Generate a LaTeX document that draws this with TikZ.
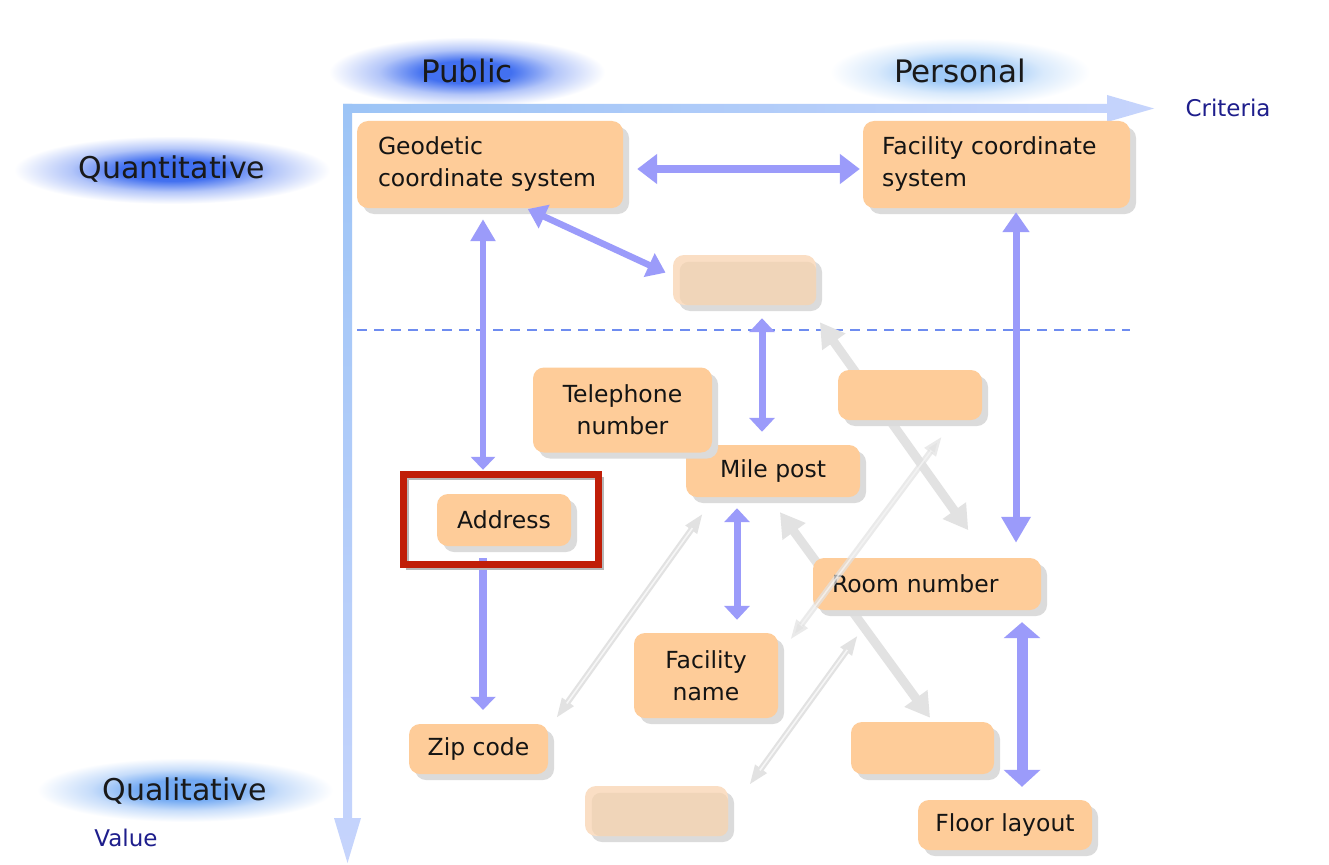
\documentclass[tikz,border=0pt]{standalone}
\usepackage{fontspec}
\setmainfont{DejaVu Sans}
\usetikzlibrary{arrows.meta,shadows,calc}

\definecolor{peach}{RGB}{254,204,153}
\definecolor{paleA}{RGB}{250,222,196}
\definecolor{paleB}{RGB}{240,213,185}
\definecolor{linkblue}{RGB}{155,155,250}
\definecolor{linkgray}{RGB}{226,226,226}
\definecolor{linkgrayin}{RGB}{246,246,246}
\definecolor{axisA}{RGB}{156,196,246}
\definecolor{axisB}{RGB}{198,212,252}
\definecolor{dashblue}{RGB}{110,140,240}
\definecolor{framered}{RGB}{192,30,8}
\definecolor{navy}{RGB}{30,30,140}
\definecolor{glowc}{RGB}{74,120,240}

% soft elliptical glow behind the axis labels (white at the path's edge)
\pgfdeclareradialshading[glowc]{glow}{\pgfpointorigin}{%
  color(0bp)=(glowc); color(8bp)=(glowc); color(16bp)=(glowc!40!white);
  color(25bp)=(white); color(50bp)=(white)}

\tikzset{
  box/.style={rounded corners=11pt, fill=peach, draw=none,
    drop shadow={shadow xshift=6pt, shadow yshift=-6pt, fill=black!14, opacity=1},
    font=\fontsize{23.5}{32}\selectfont, text=black!92, inner sep=0pt},
  palebox/.style={box, fill=paleA},
  biglabel/.style={font=\fontsize{30}{30}\selectfont, text=black!90},
  axislabel/.style={font=\fontsize{23}{23}\selectfont, text=navy},
  bluelink/.style={draw=linkblue, line width=7pt,
    arrows={Triangle[length=14pt,width=25pt]-Triangle[length=14pt,width=25pt]}},
  graylink/.style={draw=linkgray, line width=9pt,
    arrows={Triangle[length=24pt,width=27pt]-Triangle[length=24pt,width=27pt]}},
  thinlink/.style={draw=linkgray, line width=6pt,
    arrows={Triangle[length=20pt,width=13pt]-Triangle[length=20pt,width=13pt]}},
  thininner/.style={draw=linkgrayin, line width=1.6pt},
}

\begin{document}
\begin{tikzpicture}[x=1pt,y=-1pt]
\useasboundingbox (0,0) rectangle (1329,864);
\fill[white] (0,0) rectangle (1329,864);

% glows
\definecolor{glowc}{RGB}{66,112,240}
\shade[shading=glow] (467,72) ellipse (138pt and 35pt);
\shade[shading=glow] (172,170) ellipse (158pt and 34pt);
\definecolor{glowc}{RGB}{160,202,247}
\shade[shading=glow] (960,72) ellipse (130pt and 34pt);
\definecolor{glowc}{RGB}{115,170,243}
\shade[shading=glow] (185,790) ellipse (148pt and 32pt);

% labels
\node[biglabel, font=\fontsize{31}{31}\selectfont] (public) at (467,71) {Public};
\node[biglabel, font=\fontsize{31}{31}\selectfont] (personal) at (960,71) {Personal};
\node[biglabel] (quant) at (172,169) {Quantitative};
\node[biglabel] (qual) at (185,791) {Qualitative};
\node[axislabel] (criteria) at (1228,108) {Criteria};
\node[axislabel] (value) at (126,838) {Value};

% axes
\coordinate (origin) at (343,104);
\shade[left color=axisA, right color=axisB]
  (origin) -- (1107,104) -- (1107,95) -- (1154,108.5) -- (1107,122)
  -- (1107,113) -- (343,113) -- cycle;
\shade[top color=axisA, bottom color=axisB]
  (origin) -- (352,104) -- (352,818) -- (361,818) -- (347.5,863)
  -- (334,818) -- (343,818) -- cycle;

% divider between quantitative and qualitative
\coordinate (divL) at (357,330);
\coordinate (divR) at (1130,330);
\draw[dashblue, line width=1.8pt, dash pattern=on 10pt off 7pt] (divL) -- (divR);

% placeholders for nodes used by the grey links (drawn first, behind)
\path (744.5,280) node[minimum width=143pt, minimum height=50pt] (pale1) {};
\path (773,471) node[minimum width=174pt, minimum height=52pt] (mile) {};
\path (910,395) node[minimum width=144pt, minimum height=50pt] (empR) {};
\path (927,584) node[minimum width=228pt, minimum height=52pt] (room) {};
\path (706,675.5) node[minimum width=144pt, minimum height=85pt] (fname) {};
\path (478.5,749) node[minimum width=139pt, minimum height=50pt] (zip) {};
\path (922.5,748) node[minimum width=143pt, minimum height=52pt] (empB) {};
\path (656.5,811) node[minimum width=143pt, minimum height=50pt] (pale2) {};

% grey links behind the boxes
\draw[graylink, shorten <=21pt, shorten >=34pt]
  ([xshift=-8.5pt]pale1.south east) -- ([xshift=61pt]room.north);
\draw[graylink, shorten <=18.5pt, shorten >=5pt]
  ([xshift=-4pt]mile.south) -- ([xshift=10.5pt]empB.north);
\draw[thinlink, shorten <=20pt, shorten >=7pt]
  ([xshift=-58.5pt]mile.south) -- ([xshift=4pt]zip.north east);
\draw[thininner, shorten <=38pt, shorten >=25pt]
  ([xshift=-58.5pt]mile.south) -- ([xshift=4pt]zip.north east);
\draw[thinlink, shorten <=31pt, shorten >=1pt]
  ([xshift=-51pt]room.south) -- ([xshift=20.5pt]pale2.north east);
\draw[thininner, shorten <=49pt, shorten >=19pt]
  ([xshift=-51pt]room.south) -- ([xshift=20.5pt]pale2.north east);

% boxes
\node[box, minimum width=266pt, minimum height=87pt, text width=224pt,
  align=left, inner xsep=21pt] (geo) at (490,164.5) {Geodetic\\coordinate system};
\node[box, minimum width=267pt, minimum height=87pt, text width=229pt,
  align=left, inner xsep=19pt] (fac) at (996.5,164.5) {Facility coordinate\\system};
\node[palebox, minimum width=143pt, minimum height=50pt] at (pale1) {};
\fill[paleB, rounded corners=9pt]
  ([shift={(7pt,-7pt)}]pale1.north west) rectangle (pale1.south east);
\node[box, minimum width=174pt, minimum height=52pt] at (mile) {Mile post};
\node[box, minimum width=179pt, minimum height=85pt, align=center]
  (tel) at (622.5,410) {Telephone\\number};
\node[box, minimum width=144pt, minimum height=50pt] at (empR) {};
\node[box, minimum width=134pt, minimum height=52pt] (addr) at (504,520) {Address};
\node[box, minimum width=228pt, minimum height=52pt, text width=190pt,
  align=left, inner xsep=19pt] at (room) {Room number};
\node[box, minimum width=144pt, minimum height=85pt, align=center]
  at (fname) {Facility\\name};
\node[box, minimum width=139pt, minimum height=50pt] at (zip) {Zip code};
\node[box, minimum width=143pt, minimum height=52pt] at (empB) {};
\node[palebox, minimum width=143pt, minimum height=50pt] at (pale2) {};
\fill[paleB, rounded corners=9pt]
  ([shift={(7pt,-7pt)}]pale2.north west) rectangle (pale2.south east);
\node[box, minimum width=174pt, minimum height=50pt] (floor) at (1005,825) {Floor layout};

% thin grey link crossing over the room box
\draw[thinlink, opacity=0.7, shorten <=20pt]
  ([xshift=44pt]empR.south) -- ([shift={(12pt,-7pt)}]fname.north east);
\draw[thininner, opacity=0.7, shorten <=38pt, shorten >=18pt]
  ([xshift=44pt]empR.south) -- ([shift={(12pt,-7pt)}]fname.north east);

% highlight frame around the address
\node[minimum width=194pt, minimum height=89pt] (frame) at (501,519.5) {};

% blue links
\draw[bluelink, line width=8pt,
  arrows={Triangle[length=20pt,width=29pt]-Triangle[length=20pt,width=29pt]},
  shorten <=14pt, shorten >=3pt]
  ([yshift=-4.5pt]geo.east) -- ([yshift=-4.5pt]fac.west);
\draw[bluelink, line width=6.5pt,
  arrows={Triangle[length=22pt,width=24pt]-Triangle[length=13pt,width=24pt]},
  shorten <=11pt, shorten >=5pt]
  ([xshift=-7pt]geo.south) -- ([xshift=-18pt]frame.north);
\draw[bluelink, line width=6.5pt,
  arrows={Triangle[length=18pt,width=25pt]-Triangle[length=18pt,width=25pt]},
  shorten <=2pt, shorten >=8pt]
  ([xshift=36pt]geo.south) -- ([yshift=4pt]pale1.west);
\draw[bluelink, line width=7pt,
  arrows={Triangle[length=20pt,width=26pt]-Triangle[length=26pt,width=28pt]},
  shorten <=4pt, shorten >=15pt]
  ([xshift=19.5pt]fac.south) -- ([xshift=89pt]room.north);
\draw[bluelink, shorten <=13pt, shorten >=13pt]
  ([xshift=17.5pt]pale1.south) -- ([xshift=-11pt]mile.north);
\draw[bluelink, shorten <=11pt, shorten >=13pt]
  ([xshift=-36pt]mile.south) -- ([xshift=31pt]fname.north);
\draw[bluelink, line width=8pt, arrows={-Triangle[length=13pt,width=25pt]},
  shorten <=12pt, shorten >=14pt]
  ([xshift=-21pt]addr.south) -- ([xshift=4.5pt]zip.north);
\draw[bluelink, line width=11pt,
  arrows={Triangle[length=16pt,width=36pt]-Triangle[length=17pt,width=36pt]},
  shorten <=12pt, shorten >=13pt]
  ([xshift=95pt]room.south) -- ([xshift=17pt]floor.north);

% frame drawn over the links
\draw[black!28, line width=3pt]
  ([shift={(4pt,-4pt)}]frame.north west) rectangle ([shift={(4pt,-4pt)}]frame.south east);
\draw[framered, line width=7pt] (frame.north west) rectangle (frame.south east);
\end{tikzpicture}
\end{document}
